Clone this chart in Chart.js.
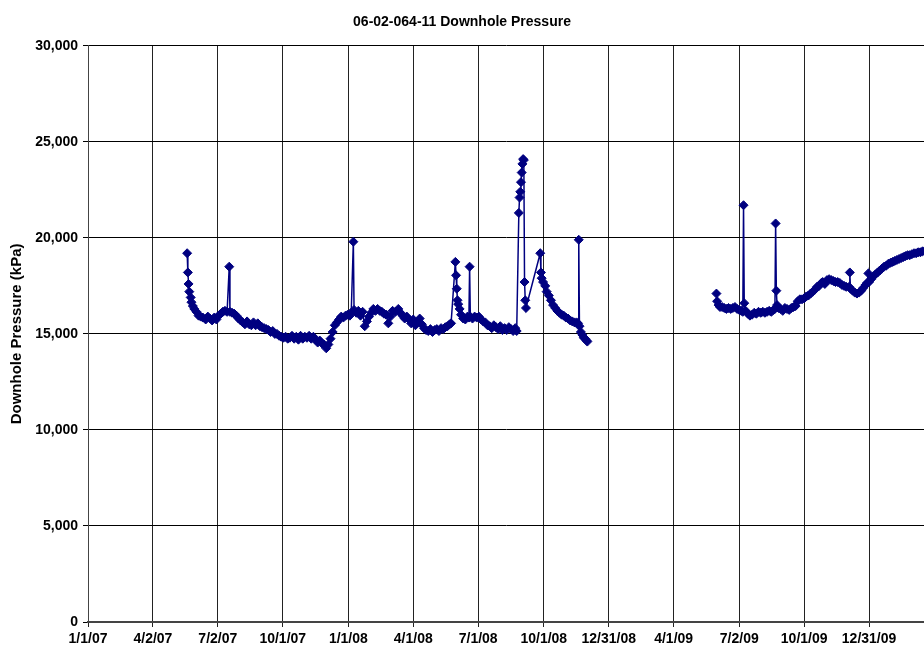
<!doctype html>
<html>
<head>
<meta charset="UTF-8">
<title>06-02-064-11 Downhole Pressure</title>
<script src="https://cdn.jsdelivr.net/npm/chart.js@4.4.1/dist/chart.umd.min.js"></script>
<style>
body{
	margin:0;
	background:#fff;
}
</style>
</head>
<body>

<canvas id="PressureChart" width="924" height="652"></canvas>

<script>

// x values are days since 1/1/07, null marks the gap in the record
var days = [
	139,140,141,142,144,145,147,149,152,155,158,161,165,168,171,174,177,180,183,186,
	189,192,195,198,199,202,205,208,211,214,217,220,223,226,229,232,235,238,241,244,
	247,250,253,256,259,262,265,268,271,274,277,280,283,286,289,292,295,298,301,304,
	307,310,313,316,319,322,325,328,331,334,337,340,343,346,349,352,355,358,361,364,
	367,369,372,373,376,379,382,385,388,391,394,397,400,403,406,409,412,415,418,421,
	424,427,431,435,438,441,444,447,450,453,456,459,462,465,468,471,474,477,480,483,
	486,489,492,495,498,501,504,507,509,515,516,517,518,519,521,523,526,529,532,534,
	535,536,539,542,545,548,551,554,557,560,563,566,569,572,575,578,581,584,587,590,
	593,596,599,601,604,605,606,607,608,609,610,611,612,613,614,634,635,636,638,641,
	643,646,649,652,655,658,661,664,667,670,673,676,679,682,685,687,688,689,691,693,
	695,697,699,700,
	790,
	881,882,884,886,889,892,895,898,901,904,907,910,913,916,918,919,920,922,925,928,
	931,934,937,940,943,946,949,952,955,958,961,963,964,965,966,968,971,974,977,980,
	983,986,989,992,995,998,1001,1004,1007,1010,1013,1016,1019,1022,1025,1028,1030,1033,1036,1039,
	1042,1045,1048,1051,1054,1057,1060,1063,1067,1068,1069,1072,1075,1078,1081,1084,1087,1090,1092,1094,
	1095,1098,1101,1104,1107,1110,1113,1116,1119,1122,1125,1128,1131,1134,1137,1140,1143,1146,1149,1152,
	1155,1158,1161,1164,1167,1170,1173
];

var kpa = [
	19200,18200,17600,17200,16900,16650,16450,16300,16150,15950,15900,15850,15750,15900,15800,15700,15850,15750,15950,16050,
	16150,16200,16150,18500,16150,16100,16050,15950,15800,15700,15600,15500,15650,15500,15450,15600,15450,15550,15400,15350,
	15300,15250,15200,15100,15150,15000,15000,14900,14850,14800,14850,14750,14800,14900,14750,14850,14700,14900,14750,14850,
	14800,14900,14750,14850,14700,14550,14650,14500,14450,14250,14450,14750,15100,15450,15600,15750,15900,15850,15950,16000,
	15950,16100,19800,16250,16100,16200,15950,16150,15400,15650,15900,16100,16300,16200,16300,16200,16150,16050,16000,15550,
	15900,16200,16150,16300,16100,15950,15800,15900,15750,15550,15750,15450,15600,15800,15500,15300,15200,15150,15250,15100,
	15200,15250,15150,15300,15250,15350,15400,15500,15550,18750,18050,17350,16750,16550,16300,16000,15800,15750,15900,15850,
	18500,15900,15800,15900,15850,15900,15750,15650,15600,15450,15400,15300,15450,15350,15250,15400,15200,15300,15200,15350,
	15250,15150,15300,15150,21300,22100,22400,22900,23400,23850,24100,24050,17700,16750,16350,19200,18200,17900,17700,17500,
	17200,17000,16750,16500,16350,16200,16100,16000,15950,15850,15800,15700,15650,15600,15600,15550,19900,15400,15100,14950,
	14800,14750,14650,14600,
	null,
	17100,16700,16500,16400,16400,16350,16300,16350,16300,16350,16400,16300,16250,16200,16150,21700,16600,16200,16050,15950,
	16000,16100,16050,16150,16100,16150,16100,16150,16200,16150,16250,16300,20750,17250,16500,16350,16300,16200,16350,16300,
	16250,16350,16400,16450,16700,16800,16800,16850,16950,17000,17100,17200,17300,17450,17500,17650,17700,17600,17800,17850,
	17800,17750,17700,17700,17650,17550,17500,17450,17450,18200,17350,17250,17150,17100,17150,17250,17400,17550,17650,18150,
	17700,17850,18000,18100,18200,18300,18400,18500,18550,18650,18700,18750,18800,18850,18900,18950,19000,19050,19100,19100,
	19150,19200,19200,19250,19250,19300,19300
];

// date axis labels and where they sit (days since 1/1/07)
var tickDays = [0,91,182,273,365,456,547,639,730,821,913,1004,1095];
var tickLabels = ['1/1/07','4/2/07','7/2/07','10/1/07','1/1/08','4/1/08','7/1/08','10/1/08','12/31/08','4/1/09','7/2/09','10/1/09','12/31/09'];

var points = days.map(function(d, i){ return {x: d, y: kpa[i]}; });

var fontFam = "'Liberation Sans', Arial, sans-serif";

var ctx = document.getElementById("PressureChart");
var PressureChart = new Chart(ctx, {
  type: 'line',
  data: {
    datasets: [{
        data: points,
        borderColor: "#000080",
        backgroundColor: "#000080",
        borderWidth: 1.5,
        pointStyle: 'rectRot',
        pointRadius: 4.5,
        pointBorderWidth: 1,
        pointBorderColor: "#000080",
        pointBackgroundColor: "#000080",
        tension: 0,
        spanGaps: false,
        fill: false
      }
    ]
  },
  options: {
	responsive: false,
	animation: false,
	layout: {padding: 0, autoPadding: false},
	plugins: {
		legend: {display: false},
		tooltip: {enabled: false},
		title: {
			display: true,
			text: '06-02-064-11 Downhole Pressure',
			color: '#000',
			font: {family: fontFam, size: 14, weight: 'bold'},
			padding: {top: 14, bottom: 15}
		}
	},
	scales: {
		x: {
			type: 'linear',
			min: 0,
			max: 1172,
			afterBuildTicks: function(scale){
				scale.ticks = tickDays.map(function(v){ return {value: v}; });
			},
			afterFit: function(scale){ scale.height = 30; },
			ticks: {
				autoSkip: false,
				maxRotation: 0,
				padding: 4,
				color: '#000',
				font: {family: fontFam, size: 14, weight: 'bold'},
				callback: function(value){
					var i = tickDays.indexOf(value);
					return i >= 0 ? tickLabels[i] : '';
				}
			},
			grid: {color: '#222', lineWidth: 1, tickLength: 5},
			border: {color: '#444', width: 2}
		},
		y: {
			min: 0,
			max: 30000,
			afterFit: function(scale){ scale.width = 88; },
			ticks: {
				stepSize: 5000,
				padding: 5,
				color: '#000',
				font: {family: fontFam, size: 14, weight: 'bold'},
				callback: function(value){ return value.toLocaleString('en-US'); }
			},
			grid: {color: '#000', lineWidth: 1, tickLength: 5},
			border: {color: '#444', width: 1},
			title: {
				display: true,
				text: 'Downhole Pressure (kPa)',
				color: '#000',
				font: {family: fontFam, size: 15, weight: 'bold'},
				padding: {top: 8, bottom: 0}
			}
		}
	}
  }
});

</script>

</body>
</html>
